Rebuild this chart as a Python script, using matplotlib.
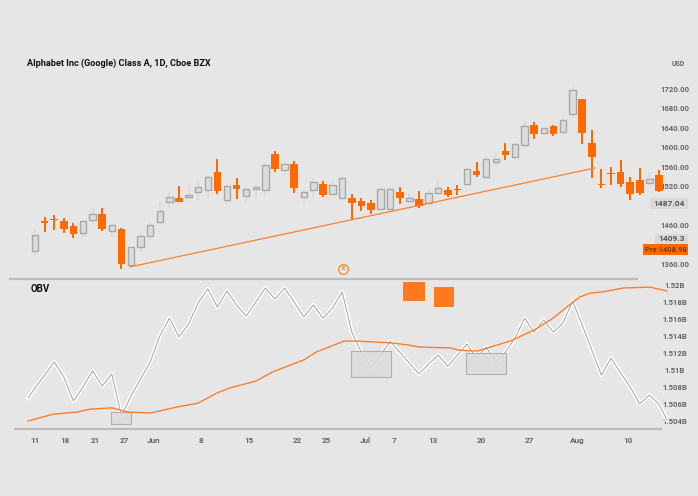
import matplotlib
matplotlib.use("Agg")
import matplotlib.pyplot as plt
from matplotlib.patches import Rectangle

plt.rcParams['font.family'] = ['Roboto', 'DejaVu Sans']

W, H = 698, 496
BG = '#e6e6e6'
ORANGE = '#ff6a00'
LINE_ORANGE = '#ff7a1f'
TXT = '#666666'

# Candles (price)
highs = [1430,1457,1461,1455,1445,1449,1475,1475,1443,1434,1395,1424,1447,1488,1508,1520,1522,1533,1541,1576,1522,1537,
         1516,1522,1568,1592,1570,1572,1514,1537,1531,1533,1541,1504,1496,1492,1518,1518,1518,1506,1510,1512,1537,1518,
         1522,1559,1570,1580,1592,1609,1609,1654,1652,1639,1645,1660,1728,1699,1635,1555,1559,1574,1539,1557,1549,1553]
body_tops = [1420,1449,1453,1449,1438,1449,1463,1463,1440,1432,1395,1418,1440,1469,1498,1496,1502,1518,1539,1549,1520,1522,
             1514,1518,1563,1586,1566,1566,1508,1529,1525,1522,1537,1496,1490,1486,1514,1514,1508,1496,1494,1506,1516,1512,
             1514,1555,1551,1576,1576,1592,1607,1643,1645,1639,1643,1656,1717,1699,1609,1525,1547,1549,1529,1533,1535,1543]
body_bots = [1388,1445,1451,1432,1422,1424,1451,1432,1429,1360,1358,1395,1418,1447,1488,1488,1498,1508,1512,1510,1492,1514,
             1500,1514,1512,1555,1553,1516,1498,1512,1502,1504,1496,1486,1479,1471,1473,1473,1496,1490,1479,1486,1506,1502,
             1512,1525,1543,1539,1570,1584,1580,1605,1627,1629,1627,1631,1668,1629,1580,1522,1545,1525,1504,1506,1527,1510]
lows = [1379,1427,1430,1424,1414,1416,1445,1428,1416,1350,1358,1385,1410,1447,1475,1488,1490,1492,1496,1504,1484,1494,
        1486,1498,1500,1549,1543,1506,1486,1494,1498,1504,1496,1453,1469,1463,1469,1473,1484,1481,1475,1484,1506,1498,
        1502,1518,1539,1533,1559,1574,1576,1598,1617,1625,1623,1625,1660,1607,1537,1516,1522,1518,1492,1502,1520,1508]
up = [1,0,0,0,0,1,1,0,1,0,1,1,1,1,1,0,1,1,1,0,1,0,
      1,1,1,0,1,0,1,1,0,1,1,0,0,0,1,1,0,1,0,1,1,0,
      0,1,0,1,1,0,1,1,0,1,0,1,1,0,0,0,0,0,0,0,1,0]

trend_x = [9.9, 58.33]
trend_price = [1354.6, 1557.3]

price_ticks = [1720, 1680, 1640, 1600, 1560, 1520, 1440, 1360]
price_labels = ['1720.00', '1680.00', '1640.00', '1600.00', '1560.00', '1520.00', '1460.00', '1360.00']

# OBV (millions)
obv_x = [-0.7] + list(range(66)) + [65.85]
obv = [1506.7,1507.9,1509.4,1510.95,1509.2,1506.35,1508.0,1509.9,1508.1,1509.55,1504.6,1506.95,1508.95,1510.95,1514.0,
       1516.1,1513.9,1515.4,1517.9,1519.55,1517.4,1519.3,1517.65,1516.35,1518.0,1519.65,1518.35,1519.65,1518.0,1516.25,
       1517.65,1516.1,1517.3,1519.2,1514.45,1512.1,1510.25,1511.75,1513.4,1512.1,1510.8,1509.55,1510.7,1511.75,1510.45,
       1511.75,1513.05,1511.4,1512.7,1510.95,1512.1,1513.75,1516.1,1514.45,1515.9,1514.45,1515.55,1518.1,1515.3,1512.35,
       1509.4,1511.4,1509.65,1508.0,1506.0,1507.05,1506.0,1504.1]
ma_x = [-0.73,1.88,4.38,5.73,8.02,9.69,12.08,14.79,16.98,18.96,20.31,23.02,24.69,28.02,29.27,32.19,33.54,36.98,38.85,
        40.10,43.23,44.06,45.31,46.15,47.71,49.48,51.98,53.96,56.04,56.77,57.81,59.17,60.1,61.25,64.06,65.83]
ma = [1504.0,1504.8,1505.05,1505.4,1505.55,1505.05,1504.95,1505.65,1506.1,1507.3,1507.9,1508.7,1509.75,1511.2,1512.1,
      1513.4,1513.4,1513.2,1512.95,1512.7,1512.6,1512.35,1512.25,1512.25,1512.8,1513.4,1514.7,1516.1,1518.0,1518.6,
      1519.05,1519.2,1519.4,1519.65,1519.75,1519.3]
obv_ticks = [1520, 1518, 1516, 1514, 1512, 1510, 1508, 1506, 1504]
obv_labels = ['1.52B', '1.518B', '1.516B', '1.514B', '1.512B', '1.51B', '1.508B', '1.506B', '1.504B']

date_ticks = [0, 3.1, 6.25, 9.27, 12.3, 17.3, 22.3, 27.3, 30.4, 34.4, 37.4, 41.5, 46.5, 51.5, 56.5, 61.8]
date_labels = ['11', '18', '21', '27', 'Jun', '8', '15', '22', '25', 'Jul', '7', '13', '20', '27', 'Aug', '10']

# Highlight boxes in the OBV pane (bar from, bar to, OBV low, OBV high)
grey_boxes = [(7.92, 10.0, 1503.65, 1505.06), (32.9, 37.1, 1509.18, 1512.24), (44.9, 49.06, 1509.53, 1512.0)]
orange_boxes = [(38.33, 40.6, 1518.12, 1520.35), (41.56, 43.65, 1517.41, 1519.76)]

fig = plt.figure(figsize=(W / 100, H / 100), dpi=100, facecolor=BG)

def axes_px(x0, y0, x1, y1):
    ax = fig.add_axes([x0 / W, 1 - y1 / H, (x1 - x0) / W, (y1 - y0) / H], facecolor='none')
    return ax

XLIM = (-3.646, 65.94)

def style(ax, x0_bar, x1_bar):
    ax.set_xlim(*XLIM)
    for s in ('top', 'left', 'right'):
        ax.spines[s].set_visible(False)
    ax.spines['bottom'].set_color('#bcbcbc')
    ax.spines['bottom'].set_linewidth(1.6)
    ax.spines['bottom'].set_bounds(x0_bar, x1_bar)
    ax.yaxis.tick_right()
    ax.tick_params(axis='y', length=0, pad=5, labelsize=5.6, labelcolor=TXT)

# Price pane
ax = axes_px(0, 30, 668, 278.5)
style(ax, -2.6, 62.7)
ax.set_ylim(1330.8, 1840.2)
ax.set_xticks([])
for i in range(len(highs)):
    if up[i]:
        ax.vlines(i, lows[i], highs[i], color='#dcdcdc', lw=1.44, zorder=2)
        ax.add_patch(Rectangle((i - 0.33, body_bots[i]), 0.66, body_tops[i] - body_bots[i],
                               facecolor='#dcdcdc', edgecolor='#a6a6a6', lw=0.95, zorder=3))
    else:
        ax.vlines(i, lows[i], highs[i], color=ORANGE, lw=1.44, zorder=2)
        ax.add_patch(Rectangle((i - 0.4, body_bots[i]), 0.8, max(body_tops[i] - body_bots[i], 2.5),
                               facecolor=ORANGE, edgecolor='none', zorder=3))
ax.plot(trend_x, trend_price, color=LINE_ORANGE, lw=0.85, zorder=4)
ax.set_yticks(price_ticks, price_labels, fontweight='bold')
for t in ax.get_yticklabels():
    t.set_ha('center')
ax.plot([32.08], [1351], marker='o', ms=7, mfc='none', mec=LINE_ORANGE, mew=0.8, clip_on=False, zorder=5)
ax.text(32.08, 1351, 'E', color=LINE_ORANGE, fontsize=4, ha='center', va='center', fontweight='bold')

# OBV pane
ax2 = axes_px(0, 280, 668, 429)
style(ax2, -2.1, 65.2)
ax2.set_ylim(1503.06, 1520.59)
ax2.plot(obv_x, obv, color='white', lw=2.9, solid_joinstyle='round', zorder=2)
ax2.plot(obv_x, obv, color='#a8a8a8', lw=0.75, zorder=3)
for x0, x1, y0, y1 in grey_boxes:
    ax2.add_patch(Rectangle((x0, y0), x1 - x0, y1 - y0, facecolor=(0.86, 0.86, 0.86, 0.8),
                            edgecolor='#b0b0b0', lw=0.8, zorder=4))
ax2.plot(ma_x, ma, color=LINE_ORANGE, lw=0.95, zorder=5, clip_on=False)
for x0, x1, y0, y1 in orange_boxes:
    ax2.add_patch(Rectangle((x0, y0), x1 - x0, y1 - y0, facecolor=LINE_ORANGE, edgecolor='none', zorder=5, clip_on=False))
ax2.set_yticks(obv_ticks, obv_labels, fontweight='bold')
for t in ax2.get_yticklabels():
    t.set_ha('center')
ax2.set_xticks(date_ticks, date_labels, fontweight='bold', fontsize=5.9, color=TXT)
ax2.tick_params(axis='x', length=0, pad=6)

def ftext(x, y, s, **kw):
    return fig.text(x / W, 1 - y / H, s, va='center', **kw)

ftext(27, 63, 'Alphabet Inc (Google) Class A, 1D, Cboe BZX', fontsize=6.55, fontweight='bold', color='#111111', ha='left')
ftext(31, 288.5, 'OBV', fontsize=7, fontweight='bold', color='#111111', ha='left')
ftext(678, 64.5, 'USD', fontsize=5, fontweight='bold', color=TXT, ha='center')

def tag(x0, x1, y0, y1, s, fc, tc, fs):
    fig.add_artist(Rectangle((x0 / W, 1 - y1 / H), (x1 - x0) / W, (y1 - y0) / H, transform=fig.transFigure,
                             facecolor=fc, edgecolor='none', zorder=6))
    t = ftext((x0 + x1) / 2, (y0 + y1) / 2, s, fontsize=fs, fontweight='bold', color=tc, ha='center')
    t.set_zorder(7)

tag(650, 688, 198, 208.5, '1487.04', '#d9d9d9', '#555555', 6)
tag(655, 688, 234, 243.5, '1409.3', '#d9d9d9', '#555555', 6)
tag(643, 688, 244, 255, 'Pre 1408.98', ORANGE, '#7a3a12', 5.4)

fig.savefig('out.png', dpi=100, facecolor=BG)
